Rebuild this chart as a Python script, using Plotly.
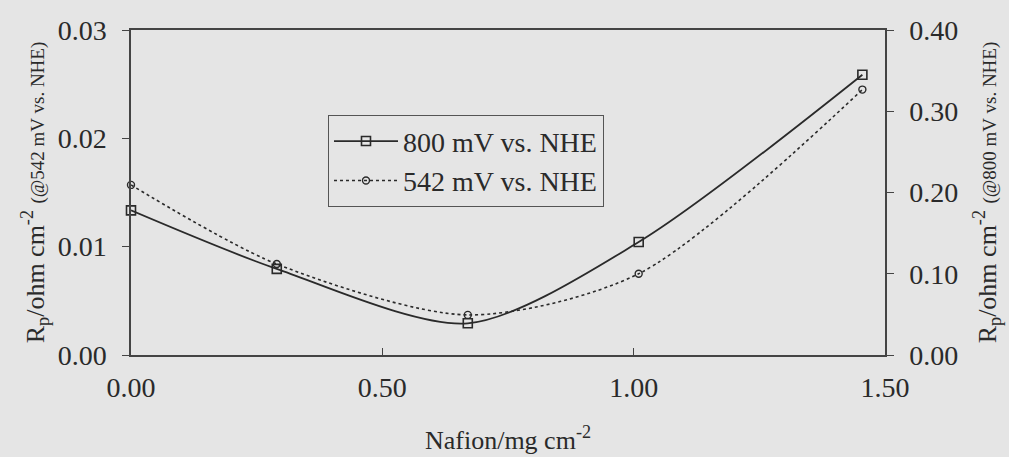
import plotly.graph_objects as go

# Data (Nafion loading, mg cm^-2)
nafion = [0.0, 0.29, 0.67, 1.01, 1.455]
rp_800 = [0.178, 0.106, 0.039, 0.139, 0.345]     # right axis (@800 mV vs. NHE)
rp_542 = [0.0157, 0.0084, 0.0037, 0.0075, 0.0245]  # left axis (@542 mV vs. NHE)

x_ticks = [0.0, 0.5, 1.0, 1.5]
y1_ticks = [0.0, 0.01, 0.02, 0.03]
y2_ticks = [0.0, 0.1, 0.2, 0.3, 0.4]

BG = "#e5e5e5"
INK = "#2a2a2a"
SERIF = "Liberation Serif"

fig = go.Figure()
fig.add_trace(go.Scatter(
    x=nafion, y=rp_800, yaxis="y2", name="800 mV vs. NHE",
    mode="lines+markers", line=dict(color=INK, width=1.8, shape="spline", smoothing=0.8),
    marker=dict(symbol="square-open", size=9, color=INK, line=dict(width=1.6)),
    cliponaxis=False,
))
fig.add_trace(go.Scatter(
    x=nafion, y=rp_542, yaxis="y", name="542 mV vs. NHE",
    mode="lines+markers", line=dict(color=INK, width=1.6, dash="dot", shape="spline", smoothing=0.8),
    marker=dict(symbol="circle-open", size=7, color=INK, line=dict(width=1.4)),
    cliponaxis=False,
))

axis_common = dict(showgrid=False, zeroline=False, linecolor="#444", linewidth=1.5,
                   tickcolor="#444", tickwidth=1.2, ticklen=7, automargin=False,
                   tickfont=dict(family=SERIF, size=28, color=INK))

fig.update_layout(
    width=1009, height=457,
    margin=dict(l=131, r=124, t=30, b=102),
    paper_bgcolor=BG, plot_bgcolor=BG,
    font=dict(family=SERIF, color=INK),
    xaxis=dict(range=[0, 1.5], tickvals=x_ticks, tickformat=".2f", ticks="inside",
               mirror=True, showline=True, ticklabelstandoff=7,
               title=dict(text="Nafion/mg cm<sup>-2</sup>", font=dict(family=SERIF, size=26, color=INK), standoff=28),
               **axis_common),
    yaxis=dict(range=[0, 0.03], tickvals=y1_ticks, tickformat=".2f", ticks="outside",
               showline=True, ticklabelstandoff=10,
               title=dict(text="R<sub>p</sub>/ohm cm<sup>-2</sup> <span style='font-size:19px'>(@542 mV vs. NHE)</span>",
                          font=dict(family=SERIF, size=26, color=INK), standoff=6),
               **axis_common),
    yaxis2=dict(range=[0, 0.40], tickvals=y2_ticks, tickformat=".2f", ticks="outside",
                overlaying="y", side="right", showline=True, ticklabelstandoff=10,
                title=dict(text="R<sub>p</sub>/ohm cm<sup>-2</sup> <span style='font-size:19px'>(@800 mV vs. NHE)</span>",
                           font=dict(family=SERIF, size=26, color=INK), standoff=20),
                **axis_common),
    yaxis3=dict(overlaying="y", matches="y", range=[0, 0.03], tickvals=y1_ticks, ticks="inside",
                ticklen=4, tickcolor="#444", tickwidth=1.2, showticklabels=False, automargin=False,
                showgrid=False, zeroline=False, showline=False, side="left"),
    yaxis4=dict(overlaying="y", range=[0, 0.40], tickvals=y2_ticks, ticks="inside",
                ticklen=7, tickcolor="#444", tickwidth=1.2, showticklabels=False, automargin=False,
                showgrid=False, zeroline=False, showline=False, side="right"),
    legend=dict(x=0.261, y=0.738, xanchor="left", yanchor="top",
                bgcolor=BG, bordercolor="#555", borderwidth=1.2,
                font=dict(family=SERIF, size=28, color=INK),
                itemwidth=64, tracegroupgap=0),
    showlegend=True,
)

fig.write_html("out.html", config={"displayModeBar": False},
               post_script="document.body.style.margin='0';document.body.style.overflow='hidden';")
